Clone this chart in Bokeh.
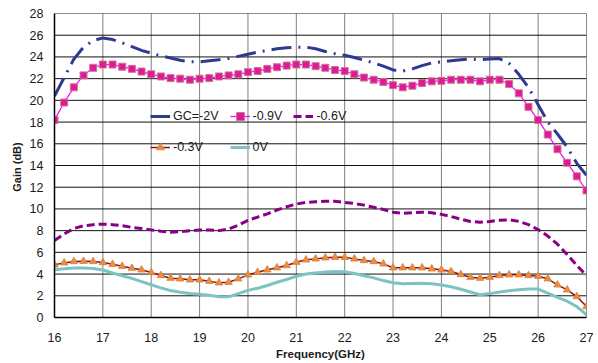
from bokeh.plotting import figure
from bokeh.models import Range1d, Legend, LegendItem, FixedTicker, ColumnDataSource, Span
from bokeh.embed import file_html
from bokeh.resources import INLINE

freq = [16.0, 16.2, 16.4, 16.6, 16.8, 17.0, 17.2, 17.4, 17.6, 17.8,
        18.0, 18.2, 18.4, 18.6, 18.8, 19.0, 19.2, 19.4, 19.6, 19.8,
        20.0, 20.2, 20.4, 20.6, 20.8, 21.0, 21.2, 21.4, 21.6, 21.8,
        22.0, 22.2, 22.4, 22.6, 22.8, 23.0, 23.2, 23.4, 23.6, 23.8,
        24.0, 24.2, 24.4, 24.6, 24.8, 25.0, 25.2, 25.4, 25.6, 25.8,
        26.0, 26.2, 26.4, 26.6, 26.8, 27.0]

gain_m2v = [20.4, 22.1, 23.8, 24.9, 25.5, 25.75, 25.6, 25.3, 24.95, 24.6,
            24.35, 24.1, 23.9, 23.7, 23.55, 23.55, 23.65, 23.75, 23.85, 24.05,
            24.25, 24.45, 24.6, 24.75, 24.85, 24.9, 24.9, 24.75, 24.5, 24.3,
            24.15, 23.95, 23.7, 23.45, 23.15, 22.8, 22.7, 22.9, 23.2, 23.45,
            23.55, 23.65, 23.75, 23.8, 23.75, 23.8, 23.85, 23.4, 22.4, 21.2,
            19.6, 18.0, 16.9, 15.7, 14.2, 13.1]

gain_m09v = [18.2, 19.8, 21.2, 22.3, 23.0, 23.3, 23.3, 23.1, 22.9, 22.65,
             22.4, 22.2, 22.05, 22.0, 21.9, 22.0, 22.05, 22.2, 22.3, 22.4,
             22.6, 22.7, 22.9, 23.05, 23.2, 23.3, 23.3, 23.15, 23.0, 22.8,
             22.7, 22.4, 22.1, 21.9, 21.7, 21.4, 21.2, 21.35, 21.6, 21.75,
             21.8, 21.9, 21.9, 21.9, 21.75, 21.9, 21.9, 21.5, 20.65, 19.4,
             18.2, 16.85, 15.5, 14.25, 13.0, 11.7]

gain_m06v = [7.1, 7.7, 8.2, 8.45, 8.55, 8.6, 8.55, 8.45, 8.3, 8.2,
             8.07, 7.95, 7.85, 7.9, 8.0, 8.05, 8.05, 8.0, 8.15, 8.5,
             8.95, 9.25, 9.55, 9.9, 10.2, 10.45, 10.6, 10.65, 10.7, 10.7,
             10.6, 10.5, 10.35, 10.15, 9.95, 9.7, 9.6, 9.65, 9.7, 9.65,
             9.5, 9.3, 9.05, 8.85, 8.78, 8.85, 8.95, 9.0, 8.85, 8.55,
             8.1, 7.5, 6.75, 5.8, 4.8, 3.85]

gain_m03v = [4.85, 5.03, 5.16, 5.18, 5.16, 5.06, 4.9, 4.72, 4.54, 4.39,
             4.14, 3.87, 3.62, 3.56, 3.47, 3.47, 3.34, 3.19, 3.25, 3.56,
             3.93, 4.17, 4.39, 4.58, 4.79, 5.09, 5.31, 5.4, 5.5, 5.55,
             5.55, 5.4, 5.25, 5.16, 4.94, 4.58, 4.58, 4.58, 4.58, 4.48,
             4.39, 4.24, 3.96, 3.71, 3.62, 3.71, 3.87, 3.93, 3.93, 3.87,
             3.8, 3.56, 3.01, 2.55, 1.93, 1.01]

gain_0v = [4.4, 4.5, 4.56, 4.57, 4.52, 4.38, 4.1, 3.85, 3.6, 3.3,
           3.02, 2.73, 2.48, 2.32, 2.22, 2.15, 2.05, 1.92, 1.9, 2.2,
           2.5, 2.7, 2.95, 3.25, 3.5, 3.8, 4.0, 4.1, 4.2, 4.24,
           4.22, 4.05, 3.85, 3.65, 3.4, 3.2, 3.1, 3.14, 3.16, 3.1,
           3.0, 2.83, 2.6, 2.35, 2.1, 2.2, 2.35, 2.47, 2.56, 2.62,
           2.62, 2.25, 1.85, 1.5, 1.0, 0.25]

x_ticks = list(range(16, 28))
y_ticks = list(range(0, 29, 2))
labels = ["GC=-2V", "-0.9V", "-0.6V", "-0.3V", "0V"]

src = ColumnDataSource(dict(f=freq, a=gain_m2v, b=gain_m09v, c=gain_m06v,
                            d=gain_m03v, e=gain_0v))

FONT = "Liberation Sans"

p = figure(width=598, height=363, output_backend="svg", toolbar_location=None,
           x_range=Range1d(16, 27), y_range=Range1d(0, 28),
           min_border_left=54, min_border_right=12, min_border_top=13,
           min_border_bottom=46)
p.background_fill_color = "white"
p.border_fill_color = "white"
p.outline_line_color = "#8c8c8c"
p.outline_line_width = 1
p.xgrid.visible = False
p.ygrid.visible = False

for ax in (p.xaxis[0], p.yaxis[0]):
    ax.axis_line_color = "black"
    ax.axis_line_width = 1.5
    ax.major_tick_line_color = None
    ax.minor_tick_line_color = None
    ax.major_label_text_font = FONT
    ax.major_label_text_font_size = "12.5px"
    ax.major_label_text_color = "#1a1a1a"
    ax.axis_label_text_font = FONT
    ax.axis_label_text_font_style = "bold"
    ax.axis_label_text_color = "#1a1a1a"

p.xaxis.ticker = FixedTicker(ticks=x_ticks)
p.yaxis.ticker = FixedTicker(ticks=y_ticks)
p.xaxis.axis_label = "Frequency(GHz)"
p.yaxis.axis_label = "Gain  (dB)"
p.xaxis.axis_label_text_font_size = "11.5px"
p.yaxis.axis_label_text_font_size = "11px"
p.xaxis.major_label_standoff = 9
p.yaxis.major_label_standoff = 5
p.xaxis.axis_label_standoff = 3
p.yaxis.axis_label_standoff = 4

# gridlines as spans
for yv in y_ticks[1:-1]:
    p.add_layout(Span(location=yv, dimension="width", line_color="#111111",
                      line_width=1, level="underlay"))
for xv in x_ticks[1:-1]:
    p.add_layout(Span(location=xv, dimension="height", line_color="#000000",
                      line_width=1, line_dash="1 1", level="underlay"))

r_a = p.line("f", "a", source=src, line_color="#2e3a92", line_width=3,
             line_dash="20 7 2 7")
r_b = p.line("f", "b", source=src, line_color="#ff00ff", line_width=1.2)
r_bm = p.scatter("f", "b", source=src, marker="square", size=7,
                 fill_color="#e0189a", line_color="#c87a8e", line_width=1)
r_c = p.line("f", "c", source=src, line_color="#880088", line_width=3,
             line_dash="8 4")
r_d = p.line("f", "d", source=src, line_color="#8b1010", line_width=1.5)
r_dm = p.scatter("f", "d", source=src, marker="triangle", size=7.5,
                 fill_color="#f08a3c", line_color="#d08040", line_width=0.8)
r_e = p.line("f", "e", source=src, line_color="#7cc4c4", line_width=3)

legend = Legend(items=[
    LegendItem(label=labels[0], renderers=[r_a]),
    LegendItem(label=labels[1], renderers=[r_b, r_bm]),
    LegendItem(label=labels[2], renderers=[r_c]),
    LegendItem(label=labels[3], renderers=[r_d, r_dm]),
    LegendItem(label=labels[4], renderers=[r_e]),
], location=(96, 160), orientation="horizontal", ncols=3,
    background_fill_alpha=0, border_line_color=None,
    padding=0, margin=0, spacing=11,
    glyph_width=20, glyph_height=20, label_height=20, label_standoff=3,
    label_text_font=FONT, label_text_font_size="12.5px",
    label_text_color="#1a1a1a")
p.add_layout(legend, "center")

open("out.html", "w").write(file_html(p, INLINE))
